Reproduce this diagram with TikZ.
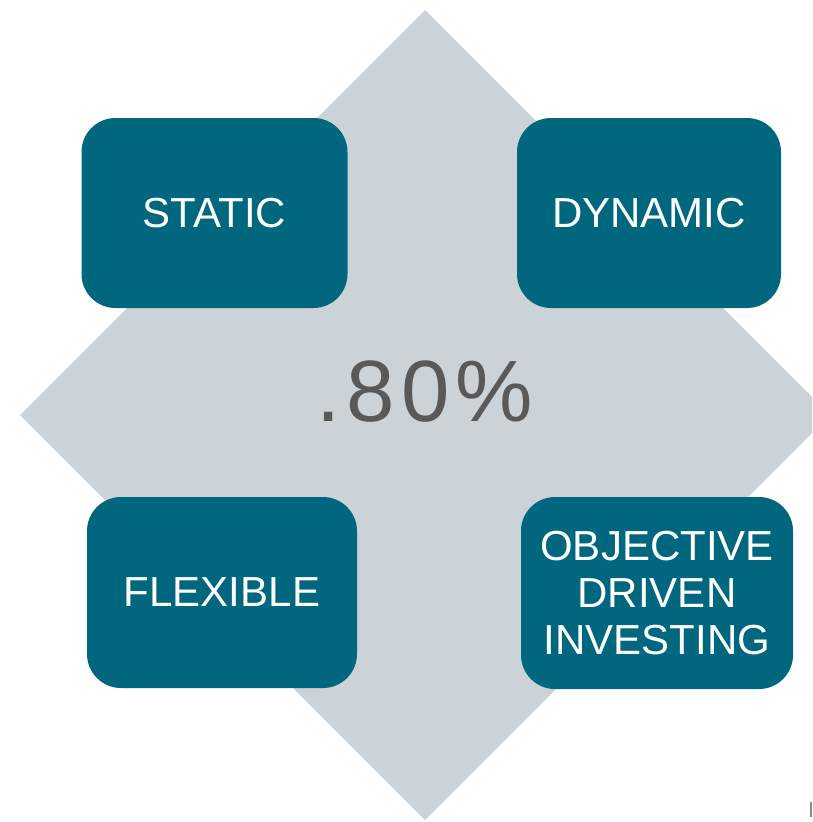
\documentclass[tikz,border=0pt]{standalone}
\usepackage{fontspec}
\setmainfont{Liberation Sans}
\usepackage{xcolor}
\usepackage{tikz}
\usetikzlibrary{positioning}
\definecolor{ODIteal}{HTML}{00677F}
\definecolor{ODIgrey}{HTML}{CBD2D8}
\definecolor{ODIdark}{HTML}{595959}

\tikzset{
  tile/.style={fill=ODIteal, rounded corners=34pt, text=white, align=center,
               font=\fontsize{42}{47}\selectfont, inner sep=0pt},
}

\begin{document}
\begin{tikzpicture}[x=1pt,y=-1pt]
        \useasboundingbox (0,0) rectangle (812,822);
        % grey diamond behind the tiles
        \begin{scope}
          \clip (0,0) rectangle (812,822);
          \fill[ODIgrey] (425,10) -- (830,415) -- (425,820) -- (20,415) -- cycle;
        \end{scope}
        \fill[ODIdark!70] (810,802) rectangle (811.5,817);
        % centre figure
        \node[font=\fontsize{87}{87}\selectfont\addfontfeature{LetterSpace=7},
              text=ODIdark] (pct) at (425,392) {.80\%};
        % four tiles
        \node[tile, minimum width=266, minimum height=190] (static) at (214.5,213) {STATIC};
        \node[tile, minimum width=264, minimum height=190] (dynamic) at (649,213) {DYNAMIC};
        \node[tile, minimum width=270, minimum height=191] (flexible) at (222,592.5) {FLEXIBLE};
        \node[tile, minimum width=272, minimum height=192] (odi) at (657,593)
              {OBJECTIVE\\DRIVEN\\INVESTING};
      \end{tikzpicture}
\end{document}
